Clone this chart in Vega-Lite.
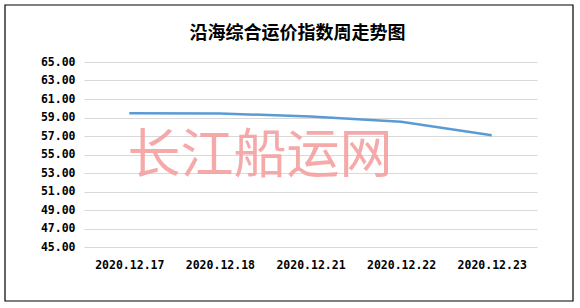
{
  "$schema": "https://vega.github.io/schema/vega-lite/v6.json",
  "autosize": "none",
  "width": 453,
  "height": 185,
  "padding": {"left": 84, "top": 62, "right": 43, "bottom": 61},
  "background": "white",
  "title": {
    "text": "沿海综合运价指数周走势图",
    "font": "Noto Sans CJK SC",
    "fontSize": 18,
    "fontWeight": "bold",
    "color": "#000000",
    "anchor": "middle",
    "dx": -13,
    "offset": -39
  },
  "config": {
    "view": {"stroke": null},
    "axis": {
      "labelFont": "DejaVu Sans Mono",
      "labelFontWeight": "bold",
      "labelFontSize": 11.5,
      "labelColor": "#000000",
      "ticks": false,
      "domain": false,
      "gridColor": "#d9d9d9",
      "gridWidth": 1,
      "labelOverlap": false
    }
  },
  "data": {
    "values": [
      {"date": "2020.12.17", "value": 59.45},
      {"date": "2020.12.18", "value": 59.44},
      {"date": "2020.12.21", "value": 59.1},
      {"date": "2020.12.22", "value": 58.55},
      {"date": "2020.12.23", "value": 57.08}
    ]
  },
  "encoding": {
    "x": {
      "field": "date",
      "type": "ordinal",
      "title": null,
      "scale": {"type": "point", "padding": 0.5},
      "axis": {"labelAngle": 0, "labelAlign": "center", "labelPadding": 12, "grid": false}
    },
    "y": {
      "field": "value",
      "type": "quantitative",
      "title": null,
      "scale": {"domain": [45, 65], "nice": false, "zero": false},
      "axis": {"values": [45,47,49,51,53,55,57,59,61,63,65], "tickCount": 11, "format": ".2f", "labelPadding": 9}
    }
  },
  "layer": [
    {
      "data": {"values": [{"frame": 1}]},
      "mark": {"type": "rect", "fill": null, "stroke": "#000000", "strokeWidth": 1.2},
      "encoding": {
        "x": {"value": -79},
        "x2": {"value": 489},
        "y": {"value": -57},
        "y2": {"value": 239}
      }
    },
    {
      "mark": {"type": "line", "color": "#5b9bd5", "strokeWidth": 2.5}
    },
    {
      "data": {"values": [{"label": "长江船运网", "date": "2020.12.18", "value": 54.75}]},
      "mark": {"type": "text", "font": "Noto Sans CJK SC", "fontSize": 53, "color": "#f5a0a0", "opacity": 0.9, "align": "center", "baseline": "middle", "dx": 40},
      "encoding": {
        "text": {"field": "label"}
      }
    }
  ]
}
